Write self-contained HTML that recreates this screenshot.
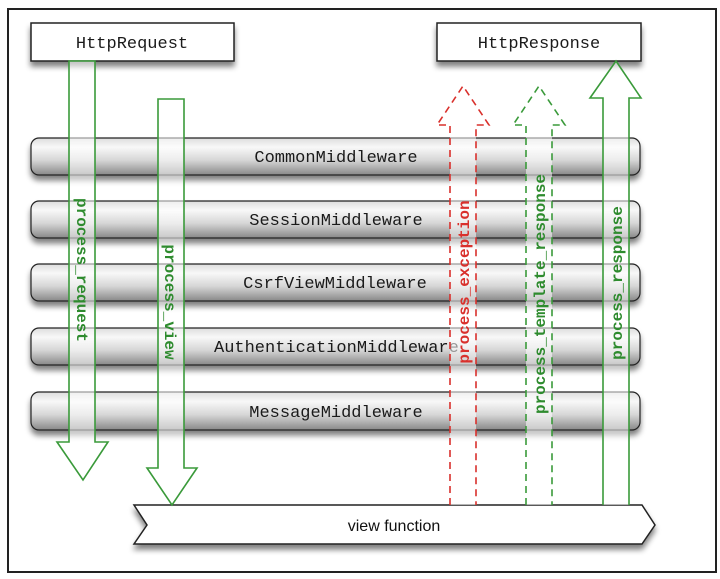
<!DOCTYPE html>
<html><head><meta charset="utf-8"><style>
html,body{margin:0;padding:0;background:#fff;}
svg{display:block;}
.mw{font-family:"Liberation Mono",monospace;font-size:17px;fill:#1a1a1a;}
.lb{font-family:"Liberation Mono",monospace;font-size:16px;font-weight:bold;}
</style></head><body>
<svg width="720" height="579" viewBox="0 0 720 579" xmlns="http://www.w3.org/2000/svg">
<defs>
<linearGradient id="bar" x1="0" y1="0" x2="0" y2="1">
<stop offset="0" stop-color="#dcdcdc"/><stop offset="0.25" stop-color="#f8f8f8"/><stop offset="0.6" stop-color="#d6d6d6"/><stop offset="1" stop-color="#888"/>
</linearGradient>
<filter id="sh" x="-5%" y="-20%" width="110%" height="160%"><feGaussianBlur in="SourceAlpha" stdDeviation="3"/><feOffset dx="0" dy="5"/><feComponentTransfer><feFuncA type="linear" slope="0.5"/></feComponentTransfer><feMerge><feMergeNode/><feMergeNode in="SourceGraphic"/></feMerge></filter>
</defs>
<rect x="0" y="0" width="720" height="579" fill="#fff"/>
<rect x="8" y="9" width="708" height="563" fill="#fff" stroke="#222" stroke-width="2"/>

<rect x="31" y="23" width="203" height="38" fill="#fff" stroke="#222" stroke-width="1.5" filter="url(#sh)"/>
<text x="132" y="48" class="mw" text-anchor="middle">HttpRequest</text>
<rect x="437" y="23" width="204" height="38" fill="#fff" stroke="#222" stroke-width="1.5" filter="url(#sh)"/>
<text x="539" y="48" class="mw" text-anchor="middle">HttpResponse</text>

<g filter="url(#sh)" stroke="#222" stroke-width="1.2" fill="url(#bar)">
<rect x="31" y="138" width="609" height="37" rx="8"/>
<rect x="31" y="201" width="609" height="37" rx="8"/>
<rect x="31" y="264" width="609" height="37" rx="8"/>
<rect x="31" y="328" width="609" height="37" rx="8"/>
<rect x="31" y="392" width="609" height="38" rx="8"/>
</g>
<text x="336" y="162" class="mw" text-anchor="middle">CommonMiddleware</text>
<text x="336" y="225" class="mw" text-anchor="middle">SessionMiddleware</text>
<text x="335" y="288" class="mw" text-anchor="middle">CsrfViewMiddleware</text>
<text x="214" y="352" class="mw">AuthenticationMiddleware</text>
<text x="336" y="417" class="mw" text-anchor="middle">MessageMiddleware</text>

<path d="M134,505 L642,505 L655,525 L642,544 L134,544 L147,525 Z" fill="#fff" stroke="#222" stroke-width="1.5" filter="url(#sh)"/>
<text x="394" y="531" font-family="Liberation Sans,sans-serif" font-size="16" fill="#111" text-anchor="middle">view function</text>

<g stroke="#3a9a3a" stroke-width="1.6" fill="rgba(255,255,255,0.55)">
<path d="M69,61 L95,61 L95,442 L108,442 L83,480 L57,442 L69,442 Z"/>
<path d="M158,99 L184,99 L184,468 L197,468 L172,505 L147,468 L158,468 Z"/>
<path d="M603,505 L603,98 L590,98 L616,61 L641,98 L629,98 L629,505"/>
</g>
<path d="M450,505 L450,125 L437,125 L463,86 L489,125 L476,125 L476,505" fill="rgba(255,255,255,0.55)" stroke="#d9302c" stroke-width="1.6" stroke-dasharray="7,5"/>
<path d="M526,505 L526,125 L513,125 L539,86 L565,125 L552,125 L552,505" fill="rgba(255,255,255,0.55)" stroke="#3a9a3a" stroke-width="1.6" stroke-dasharray="7,5"/>

<text class="lb" fill="#2e8b2e" transform="translate(77,270) rotate(90)" text-anchor="middle">process_request</text>
<text class="lb" fill="#2e8b2e" transform="translate(165,302) rotate(90)" text-anchor="middle">process_view</text>
<text class="lb" fill="#d9302c" transform="translate(469,282) rotate(-90)" text-anchor="middle">process_exception</text>
<text class="lb" fill="#2e8b2e" transform="translate(545,294) rotate(-90)" text-anchor="middle">process_template_response</text>
<text class="lb" fill="#2e8b2e" transform="translate(622,283) rotate(-90)" text-anchor="middle">process_response</text>
</svg>
</body></html>
